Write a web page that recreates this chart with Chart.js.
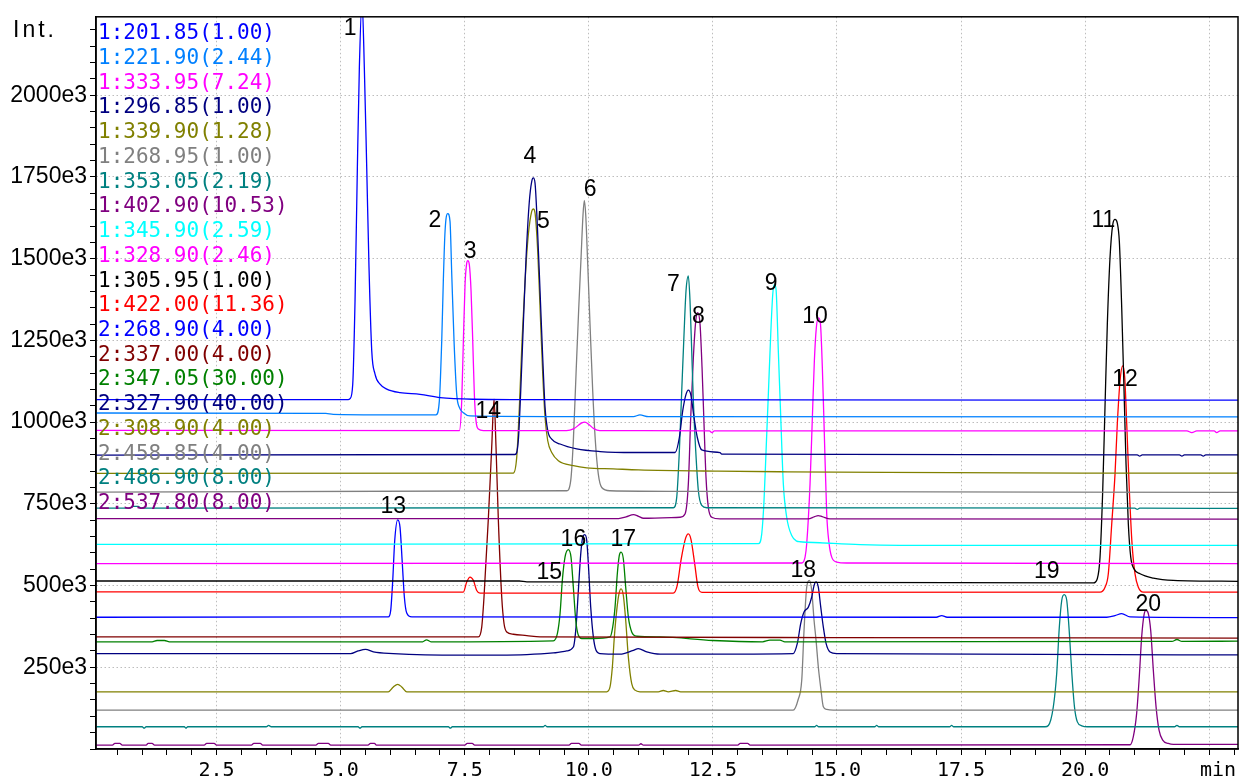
<!DOCTYPE html>
<html>
<head>
<meta charset="utf-8">
<script src="https://cdn.jsdelivr.net/npm/chart.js@4.4.0/dist/chart.umd.min.js"></script>
<style>
  html, body { margin: 0; padding: 0; background: #fff; }
  canvas { display: block; }
</style>
</head>
<body>
<canvas id="chart" width="1240" height="781"></canvas>
<script>
// channel labels as in the legend
const traceLabels = [
  '1:201.85(1.00)', '1:221.90(2.44)', '1:333.95(7.24)', '1:296.85(1.00)',
  '1:339.90(1.28)', '1:268.95(1.00)', '1:353.05(2.19)', '1:402.90(10.53)',
  '1:345.90(2.59)', '1:328.90(2.46)', '1:305.95(1.00)', '1:422.00(11.36)',
  '2:268.90(4.00)', '2:337.00(4.00)', '2:347.05(30.00)', '2:327.90(40.00)',
  '2:308.90(4.00)', '2:458.85(4.00)', '2:486.90(8.00)', '2:537.80(8.00)'
];

// [time (min), intensity (x1000)]
const trace01 = [[0,1069],[5.15,1069],[5.189,1072],[5.243,1116],[5.289,1370],[5.336,1777],[5.376,2082],[5.43,2290],[5.477,2082],[5.525,1777],[5.571,1472],[5.626,1218],[5.692,1147],[5.793,1116],[5.928,1101],[6.196,1090],[6.599,1085],[7.002,1075],[7.667,1070],[8.6,1069],[23.1,1067]];
const trace02 = [[0,1028],[4.7,1027],[4.85,1024],[6.921,1022],[6.988,1065],[7.036,1248],[7.068,1431],[7.103,1584],[7.157,1638],[7.203,1614],[7.238,1452],[7.284,1248],[7.338,1085],[7.391,1045],[7.472,1029],[7.606,1019],[9.5,1017],[10.9,1017],[11.03,1022],[11.2,1017],[23.1,1016]];
const trace03 = [[0,975],[7.391,974],[7.439,1065],[7.472,1248],[7.506,1421],[7.54,1487],[7.56,1494],[7.592,1482],[7.627,1401],[7.661,1248],[7.693,1086],[7.727,1004],[7.774,979],[7.874,974],[9.55,974],[9.7,980],[9.85,997],[9.92,1000],[10.0,993],[10.1,980],[10.22,974],[12.43,973],[12.48,968],[12.53,973],[22.05,973],[22.15,968],[22.25,973],[22.6,973],[22.65,968],[22.72,973],[23.1,973]];
const trace04 = [[0,899],[8.513,901],[8.579,943],[8.628,1096],[8.68,1299],[8.735,1502],[8.801,1675],[8.849,1736],[8.882,1747],[8.916,1731],[8.962,1604],[9.017,1401],[9.071,1197],[9.118,1045],[9.172,974],[9.252,948],[9.42,933],[9.756,918],[10.226,910],[10.897,907],[11.737,907],[11.824,953],[11.892,1035],[11.958,1085],[12.005,1098],[12.053,1085],[12.12,1014],[12.186,953],[12.275,915],[12.643,907],[12.678,902],[21.05,900],[21.1,896],[21.15,900],[21.9,900],[21.95,896],[22.0,900],[22.33,900],[22.38,896],[22.43,900],[23.1,900]];
const trace05 = [[0,843],[8.479,844],[8.547,892],[8.6,1045],[8.654,1248],[8.715,1431],[8.781,1574],[8.849,1645],[8.882,1652],[8.916,1640],[8.97,1523],[9.017,1350],[9.071,1147],[9.118,1014],[9.172,943],[9.252,907],[9.386,882],[9.688,867],[9.958,860],[10.494,857],[11.0,854],[12.6,850],[14.0,848],[16.0,846],[20.0,844],[23.1,844]];
const trace06 = [[0,786],[9.554,790],[9.635,821],[9.688,943],[9.742,1147],[9.797,1350],[9.843,1502],[9.883,1635],[9.909,1678],[9.937,1635],[9.978,1482],[10.024,1299],[10.078,1096],[10.131,943],[10.191,841],[10.26,800],[10.427,790],[12.0,788],[23.1,785]];
const trace07 = [[0,737],[0.75,737],[0.82,742],[0.92,742],[0.98,737],[11.703,738],[11.771,770],[11.824,912],[11.872,1096],[11.918,1269],[11.958,1401],[12.005,1447],[12.039,1370],[12.073,1218],[12.106,1065],[12.154,912],[12.207,790],[12.275,745],[12.376,738],[21.0,737],[21.05,733],[21.1,737],[23.1,736]];
const trace08 = [[0,705],[10.6,705],[10.75,710],[10.9,717],[11.0,712],[11.1,706],[11.837,709],[11.938,719],[12.005,811],[12.053,1014],[12.106,1197],[12.154,1309],[12.194,1335],[12.241,1299],[12.281,1167],[12.321,994],[12.361,831],[12.408,739],[12.476,709],[12.643,704],[14.42,704],[14.55,711],[14.62,714],[14.7,711],[14.86,704],[23.1,703]];
const trace09 = [[0,626],[13.416,628],[13.484,658],[13.53,760],[13.571,912],[13.617,1085],[13.665,1269],[13.706,1391],[13.738,1421],[13.772,1406],[13.818,1218],[13.867,1014],[13.919,811],[13.987,709],[14.088,653],[14.189,636],[14.256,634],[14.659,631],[15.465,625],[16.27,623],[23.1,623]];
const trace10 = [[0,567],[14.29,569],[14.357,587],[14.39,628],[14.457,811],[14.504,1014],[14.544,1187],[14.584,1289],[14.624,1319],[14.665,1304],[14.705,1167],[14.745,963],[14.793,720],[14.84,630],[14.894,587],[14.995,572],[15.196,569],[23.1,567]];
const trace11 = [[0,514],[8.6,514],[8.75,511],[20.165,508],[20.245,521],[20.3,587],[20.354,790],[20.4,1045],[20.447,1299],[20.501,1502],[20.556,1604],[20.602,1620],[20.648,1609],[20.689,1553],[20.737,1350],[20.784,1096],[20.824,872],[20.87,689],[20.919,587],[20.985,551],[21.106,536],[21.374,523],[21.777,516],[23.1,513]];
const trace12 = [[0,481],[7.471,480],[7.54,511],[7.606,526],[7.673,516],[7.741,485],[7.808,477],[11.7,477],[11.78,500],[11.86,580],[11.95,645],[12.005,658],[12.06,640],[12.13,570],[12.2,495],[12.28,479],[20.3,480],[20.401,495],[20.467,536],[20.536,689],[20.602,841],[20.648,994],[20.703,1126],[20.757,1172],[20.798,1136],[20.838,994],[20.891,790],[20.945,628],[21.005,536],[21.072,495],[21.173,480],[23.1,480]];
const trace13 = [[0,403],[5.96,404],[6.008,424],[6.049,516],[6.089,638],[6.149,701],[6.196,678],[6.242,567],[6.283,465],[6.331,416],[6.432,404],[17.0,403],[17.11,408],[17.22,403],[20.435,403],[20.6,408],[20.737,414],[20.905,404],[23.1,402]];
const trace14 = [[0,343],[7.774,343],[7.842,373],[7.888,465],[7.975,704],[8.043,923],[8.09,1070],[8.13,923],[8.176,704],[8.245,465],[8.291,384],[8.346,358],[8.479,351],[8.749,347],[9.017,343],[15.0,341],[23.1,339]];
const trace15 = [[0,328],[1.2,328],[1.3,332],[1.45,332],[1.55,328],[6.65,328],[6.73,334],[6.82,328],[9.285,331],[9.366,353],[9.42,414],[9.466,516],[9.52,587],[9.587,610],[9.641,587],[9.688,495],[9.736,394],[9.789,348],[9.857,338],[10.091,338],[10.427,343],[10.481,373],[10.528,434],[10.574,536],[10.614,592],[10.649,602],[10.695,582],[10.743,495],[10.796,404],[10.864,358],[10.965,345],[11.435,343],[12.5,332],[13.5,328],[13.65,333],[13.85,333],[13.95,328],[21.75,329],[21.85,335],[21.95,329],[23.1,330]];
const trace16 = [[0,292],[5.2,292],[5.35,300],[5.5,305],[5.66,297],[6.06,292],[7.4,287],[8.75,289],[9.285,294],[9.554,300],[9.688,312],[9.742,373],[9.789,485],[9.837,597],[9.877,648],[9.917,656],[9.958,638],[9.998,546],[10.038,434],[10.091,343],[10.145,302],[10.226,292],[10.629,290],[10.897,302],[10.997,307],[11.167,297],[11.435,290],[14.118,292],[14.201,323],[14.27,384],[14.336,419],[14.423,434],[14.491,465],[14.538,500],[14.578,511],[14.624,495],[14.673,434],[14.725,373],[14.78,323],[14.86,297],[14.995,292],[23.1,288]];
const trace17 = [[0,175],[5.96,175],[6.061,190],[6.149,198],[6.23,190],[6.331,175],[10.36,175],[10.427,190],[10.474,251],[10.514,343],[10.562,424],[10.608,475],[10.649,490],[10.695,470],[10.743,394],[10.796,282],[10.864,200],[10.931,180],[11.031,175],[11.4,175],[11.5,179],[11.6,175],[11.75,179],[11.85,175],[23.1,175]];
const trace18 = [[0,119],[14.118,119],[14.215,150],[14.29,211],[14.336,363],[14.39,495],[14.443,516],[14.491,485],[14.538,394],[14.578,333],[14.624,251],[14.678,180],[14.725,129],[14.793,121],[14.926,119],[23.1,119]];
const trace19 = [[0,68],[1.0,68],[1.04,64],[1.08,68],[1.85,68],[1.88,64],[1.92,68],[3.5,68],[3.55,72],[3.6,68],[5.35,68],[5.39,64],[5.43,68],[7.17,68],[7.21,64],[7.25,68],[9.08,68],[9.12,72],[9.16,68],[14.55,68],[14.59,72],[14.63,68],[15.76,68],[15.8,72],[15.84,68],[17.27,68],[17.31,72],[17.35,68],[19.192,68],[19.259,72],[19.359,129],[19.427,231],[19.48,373],[19.529,455],[19.578,472],[19.629,455],[19.683,353],[19.732,231],[19.785,129],[19.843,83],[19.932,71],[20.05,68],[21.8,68],[21.85,72],[21.9,68],[23.1,68]];
const trace20 = [[0,12],[0.4,12],[0.45,17],[0.55,17],[0.6,12],[1.08,12],[1.12,17],[1.2,17],[1.25,12],[2.25,12],[2.3,17],[2.45,17],[2.5,12],[3.2,12],[3.25,17],[3.38,17],[3.43,12],[4.5,12],[4.55,17],[4.75,17],[4.8,12],[5.55,12],[5.6,17],[5.68,17],[5.72,12],[7.5,12],[7.55,17],[7.65,17],[7.7,12],[9.6,12],[9.65,17],[9.8,17],[9.85,12],[11.0,12],[11.05,16],[11.1,12],[13.0,12],[13.05,17],[13.2,17],[13.25,12],[20.905,13],[20.971,38],[21.038,109],[21.091,221],[21.139,343],[21.185,409],[21.226,424],[21.273,414],[21.321,363],[21.374,241],[21.429,129],[21.489,58],[21.563,27],[21.676,17],[21.777,14],[23.1,14]];

const traces = [trace01, trace02, trace03, trace04, trace05, trace06, trace07, trace08, trace09, trace10,
                trace11, trace12, trace13, trace14, trace15, trace16, trace17, trace18, trace19, trace20];

// peak numbers and where they sit (time, intensity)
const peakNumbers = ['1','2','3','4','5','6','7','8','9','10','11','12','13','14','15','16','17','18','19','20'];
const peakLabelTimes = [5.189, 6.90, 7.607, 8.815, 9.084, 10.024, 11.703, 12.207, 13.671, 14.558,
                        20.367, 20.804, 6.061, 7.975, 9.204, 9.689, 10.696, 14.32, 19.226, 21.274];
const peakLabelHeights = [2204, 1615, 1520, 1813, 1614, 1711, 1421, 1324, 1423, 1324,
                          1615, 1131, 740, 1032, 541, 640, 640, 546, 544, 442];

const traceColors = ['#0000ff', '#0080ff', '#ff00ff', '#000080', '#808000', '#808080', '#008080', '#800080',
                     '#00ffff', '#ff00ff', '#000000', '#ff0000', '#0000ff', '#800000', '#008000', '#000080',
                     '#808000', '#808080', '#008080', '#800080'];

const xMin = 0.07, xMax = 23.08;
const yMin = 0, yMax = 2240;

const isMajor = (v, step) => v > 0 && Math.abs(v / step - Math.round(v / step)) < 1e-6;

const datasets = traces.map((pts, i) => ({
  label: traceLabels[i],
  data: pts.map(p => ({ x: p[0], y: p[1] })),
  borderColor: traceColors[i],
  borderWidth: 1.3,
  pointRadius: 0,
  fill: false,
  cubicInterpolationMode: 'monotone'
}));

// frame, legend, peak numbers and axis captions
const overlay = {
  id: 'overlay',
  afterDraw(chart) {
    const ctx = chart.ctx;
    const a = chart.chartArea;
    const xs = chart.scales.x, ys = chart.scales.y;
    ctx.save();
    ctx.strokeStyle = '#000';
    ctx.lineWidth = 1.5;
    ctx.strokeRect(a.left, a.top, a.right - a.left, a.bottom - a.top);

    ctx.fillStyle = '#000';
    ctx.font = '23px "Liberation Sans"';
    ctx.textAlign = 'center';
    ctx.textBaseline = 'middle';
    peakNumbers.forEach((n, i) => {
      ctx.fillText(n, xs.getPixelForValue(peakLabelTimes[i]), ys.getPixelForValue(peakLabelHeights[i]));
    });

    ctx.font = '21px "DejaVu Sans Mono"';
    ctx.textAlign = 'left';
    ctx.textBaseline = 'alphabetic';
    chart.data.datasets.forEach((ds, i) => {
      ctx.fillStyle = ds.borderColor;
      ctx.fillText(ds.label, a.left + 2, a.top + 22.3 + i * 24.74);
    });

    ctx.fillStyle = '#000';
    ctx.font = '23px "Liberation Sans"';
    if ('letterSpacing' in ctx) ctx.letterSpacing = '3px';
    ctx.fillText('Int.', 13, 37);
    if ('letterSpacing' in ctx) ctx.letterSpacing = '0px';

    ctx.font = '20px "DejaVu Sans Mono"';
    ctx.textAlign = 'right';
    ctx.textBaseline = 'middle';
    ctx.fillText('min', a.right - 2, a.bottom + 22);
    ctx.restore();
  }
};

new Chart(document.getElementById('chart'), {
  type: 'line',
  data: { datasets: datasets },
  options: {
    responsive: false,
    animation: false,
    events: [],
    layout: { padding: { left: 0, top: 15, right: 2, bottom: 0 } },
    plugins: { legend: { display: false }, tooltip: { enabled: false } },
    scales: {
      x: {
        type: 'linear',
        min: xMin,
        max: xMax,
        afterFit: s => { s.height = 32; },
        border: { color: '#000', width: 1.5, dash: [1.5, 2.5] },
        grid: {
          color: c => isMajor(c.tick.value, 2.5) ? '#bdbdbd' : 'rgba(0,0,0,0)',
          lineWidth: 1,
          tickColor: '#000',
          tickLength: 6,
          tickWidth: 1
        },
        ticks: {
          stepSize: 0.5,
          autoSkip: false,
          includeBounds: false,
          maxRotation: 0,
          padding: 4,
          color: '#000',
          font: { family: 'DejaVu Sans Mono', size: 20 },
          callback: v => (isMajor(v, 2.5) && v < 22) ? v.toFixed(1) : ''
        }
      },
      y: {
        type: 'linear',
        min: yMin,
        max: yMax,
        afterFit: s => { s.width = 96; },
        border: { color: '#000', width: 1.5, dash: [1.5, 2.5] },
        grid: {
          color: c => isMajor(c.tick.value, 250) ? '#bdbdbd' : 'rgba(0,0,0,0)',
          lineWidth: 1,
          tickColor: '#000',
          tickLength: 6,
          tickWidth: 1
        },
        ticks: {
          stepSize: 50,
          autoSkip: false,
          includeBounds: false,
          padding: 3,
          color: '#000',
          font: { family: 'Liberation Sans', size: 23 },
          callback: v => isMajor(v, 250) ? v + 'e3' : ''
        }
      }
    }
  },
  plugins: [overlay]
});
</script>
</body>
</html>
